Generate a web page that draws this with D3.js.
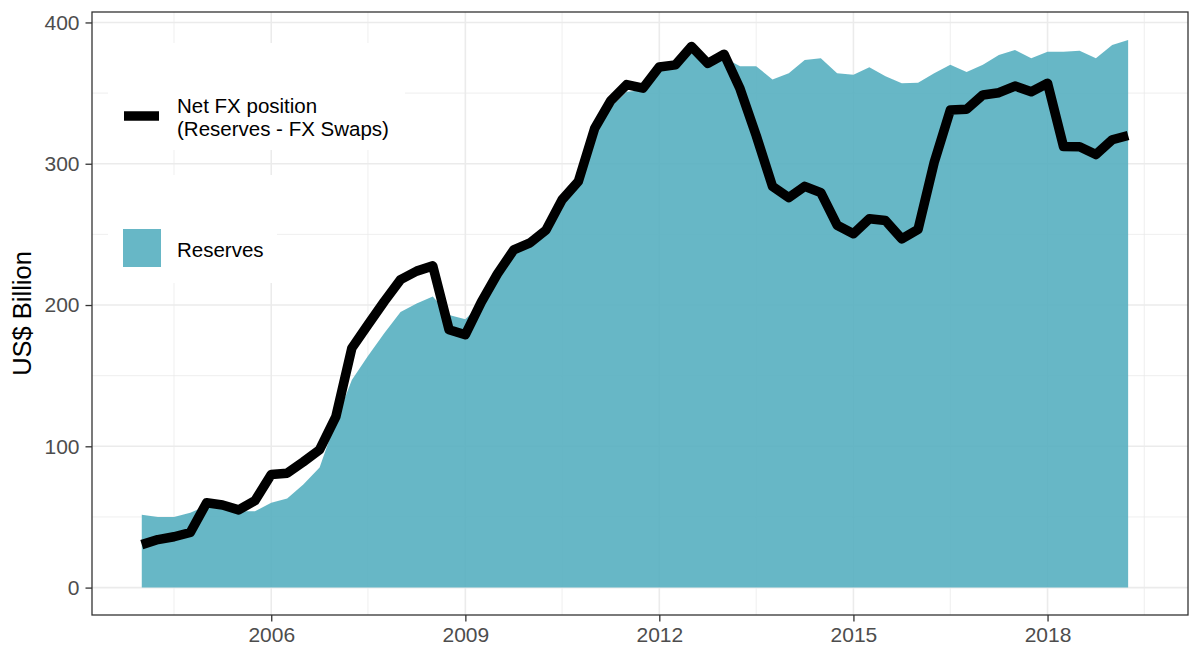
<!DOCTYPE html>
<html>
<head>
<meta charset="utf-8">
<script src="https://cdn.jsdelivr.net/npm/d3@7"></script>
<style>
  body { margin: 0; background: #fff; }
  svg { display: block; font-family: "Liberation Sans", Arial, sans-serif; }
</style>
</head>
<body>
<div id="chart"></div>
<script>
// quarterly observations, 2004Q1 .. 2019Q2
let quarters = [
  "2004Q1","2004Q2","2004Q3","2004Q4","2005Q1","2005Q2","2005Q3","2005Q4",
  "2006Q1","2006Q2","2006Q3","2006Q4","2007Q1","2007Q2","2007Q3","2007Q4",
  "2008Q1","2008Q2","2008Q3","2008Q4","2009Q1","2009Q2","2009Q3","2009Q4",
  "2010Q1","2010Q2","2010Q3","2010Q4","2011Q1","2011Q2","2011Q3","2011Q4",
  "2012Q1","2012Q2","2012Q3","2012Q4","2013Q1","2013Q2","2013Q3","2013Q4",
  "2014Q1","2014Q2","2014Q3","2014Q4","2015Q1","2015Q2","2015Q3","2015Q4",
  "2016Q1","2016Q2","2016Q3","2016Q4","2017Q1","2017Q2","2017Q3","2017Q4",
  "2018Q1","2018Q2","2018Q3","2018Q4","2019Q1","2019Q2"];

let reserves = [51.5, 50, 50, 53, 58, 57, 54, 54,
  60, 63, 73, 85, 118, 147, 164, 180,
  195, 201, 206, 193, 190, 201, 221, 237,
  242, 251, 272, 285, 320, 340, 351, 352,
  367, 368, 381, 370, 375, 369, 369, 359.6,
  364, 373.4, 374.6, 364, 363, 368.3, 362, 357,
  357.4, 364, 370, 365, 370, 377, 380.5, 374.6,
  379.3, 379.3, 380, 374.6, 384, 387.6];

let netFX = [30.4, 34, 36, 39, 60, 58.5, 55, 61.5,
  80, 81, 89, 97.6, 121, 169.5, 186, 202.5,
  218, 224, 227.7, 182.5, 179, 202, 222, 239,
  244, 253, 274.5, 287.5, 325, 344.5, 356, 353.5,
  368.5, 370, 383, 371, 377.5, 353, 320, 284,
  276, 284, 279.5, 256.5, 250.5, 261, 259.8, 246.8,
  253.5, 301, 338, 338.6, 348.7, 350.3, 355, 351,
  357, 312.2, 312, 306.5, 317, 320];

let yTicks = [0, 100, 200, 300, 400];
let yMinor = [50, 150, 250, 350];
let xTickYears = [2006, 2009, 2012, 2015, 2018];
let xMinorYears = [2004.5, 2007.5, 2010.5, 2013.5, 2016.5, 2019.5];

let lineLabel = ["Net FX position", "(Reserves - FX Swaps)"];
let areaLabel = "Reserves";
let yTitle = "US$ Billion";

function parseQuarter(q) {
  let y = +q.slice(0, 4), k = +q.slice(5);
  return new Date(y, (k - 1) * 3, 1);
}
function yearDate(y) {
  let whole = Math.floor(y);
  return new Date(whole, Math.round((y - whole) * 12), 1);
}

let data = quarters.map((q, i) => ({date: parseQuarter(q), res: reserves[i], net: netFX[i]}));

var W = 1190, H = 648;
var margin = {top: 12, right: 2, bottom: 33, left: 92};
var width = W - margin.left - margin.right,
    height = H - margin.top - margin.bottom;

var svg = d3.select("#chart").append("svg")
    .attr("width", W).attr("height", H);

var g = svg.append("g")
    .attr("transform", "translate(" + margin.left + "," + margin.top + ")");

// domains include ggplot-like padding
var x = d3.scaleTime()
    .domain([new Date(2003, 2, 26), new Date(2020, 2, 4)])
    .range([0, width]);
var y = d3.scaleLinear()
    .domain([-19.4, 407.4])
    .range([height, 0]);

// gridlines
var grid = g.append("g");
grid.selectAll(".ymin").data(yMinor).enter().append("line")
    .attr("x1", 0).attr("x2", width)
    .attr("y1", d => y(d)).attr("y2", d => y(d))
    .style("stroke", "#ebebeb").style("stroke-width", 0.8);
grid.selectAll(".xmin").data(xMinorYears).enter().append("line")
    .attr("y1", 0).attr("y2", height)
    .attr("x1", d => x(yearDate(d))).attr("x2", d => x(yearDate(d)))
    .style("stroke", "#ebebeb").style("stroke-width", 0.8);
grid.selectAll(".ymaj").data(yTicks).enter().append("line")
    .attr("x1", 0).attr("x2", width)
    .attr("y1", d => y(d)).attr("y2", d => y(d))
    .style("stroke", "#ebebeb").style("stroke-width", 1.6);
grid.selectAll(".xmaj").data(xTickYears).enter().append("line")
    .attr("y1", 0).attr("y2", height)
    .attr("x1", d => x(yearDate(d))).attr("x2", d => x(yearDate(d)))
    .style("stroke", "#ebebeb").style("stroke-width", 1.6);

// reserves area
var area = d3.area()
    .x(d => x(d.date))
    .y0(y(0))
    .y1(d => y(d.res));
g.append("path")
    .datum(data)
    .attr("d", area)
    .style("fill", "#56afc0")
    .style("fill-opacity", 0.9);

// net FX line
var line = d3.line()
    .x(d => x(d.date))
    .y(d => y(d.net));
g.append("path")
    .datum(data)
    .attr("d", line)
    .style("fill", "none")
    .style("stroke", "#000")
    .style("stroke-width", 9.5)
    .style("stroke-linejoin", "round")
    .style("stroke-linecap", "butt");

// legends (white boxes inside panel)
var leg1 = svg.append("g");
leg1.append("rect").attr("x", 108).attr("y", 43).attr("width", 297).attr("height", 107).style("fill", "#fff");
leg1.append("line").attr("x1", 124).attr("x2", 159).attr("y1", 116).attr("y2", 116)
    .style("stroke", "#000").style("stroke-width", 9.5);
leg1.selectAll("text").data(lineLabel).enter().append("text")
    .attr("x", 177).attr("y", (d, i) => 113 + i * 23)
    .style("font-size", "20.5px").style("fill", "#000")
    .text(d => d);

var leg2 = svg.append("g");
leg2.append("rect").attr("x", 108).attr("y", 175).attr("width", 169).attr("height", 108).style("fill", "#fff");
leg2.append("rect").attr("x", 123).attr("y", 229).attr("width", 38).attr("height", 38)
    .style("fill", "#56afc0").style("fill-opacity", 0.9);
leg2.append("text").attr("x", 177).attr("y", 257)
    .style("font-size", "20.5px").style("fill", "#000")
    .text(areaLabel);

// axes
var yAxis = g.append("g")
    .call(d3.axisLeft(y).tickValues(yTicks).tickSize(6.5).tickPadding(6));
var xAxis = g.append("g")
    .attr("transform", "translate(0," + height + ")")
    .call(d3.axisBottom(x).tickValues(xTickYears.map(yearDate)).tickSize(6.5).tickPadding(6)
        .tickFormat(d3.timeFormat("%Y")));
[yAxis, xAxis].forEach(a => {
  a.select(".domain").remove();
  a.selectAll(".tick line").style("stroke", "#333").style("stroke-width", 1.3);
  a.selectAll(".tick text").style("font-size", "21px").style("fill", "#4d4d4d")
      .style("font-family", "Liberation Sans, Arial, sans-serif");
});

// panel border
g.append("rect")
    .attr("x", 0).attr("y", 0).attr("width", width).attr("height", height)
    .style("fill", "none").style("stroke", "#333").style("stroke-width", 1.3);

// y title
svg.append("text")
    .attr("transform", "translate(31," + (margin.top + height / 2) + ") rotate(-90)")
    .attr("text-anchor", "middle")
    .style("font-size", "25.5px").style("fill", "#000")
    .text(yTitle);
</script>
</body>
</html>
